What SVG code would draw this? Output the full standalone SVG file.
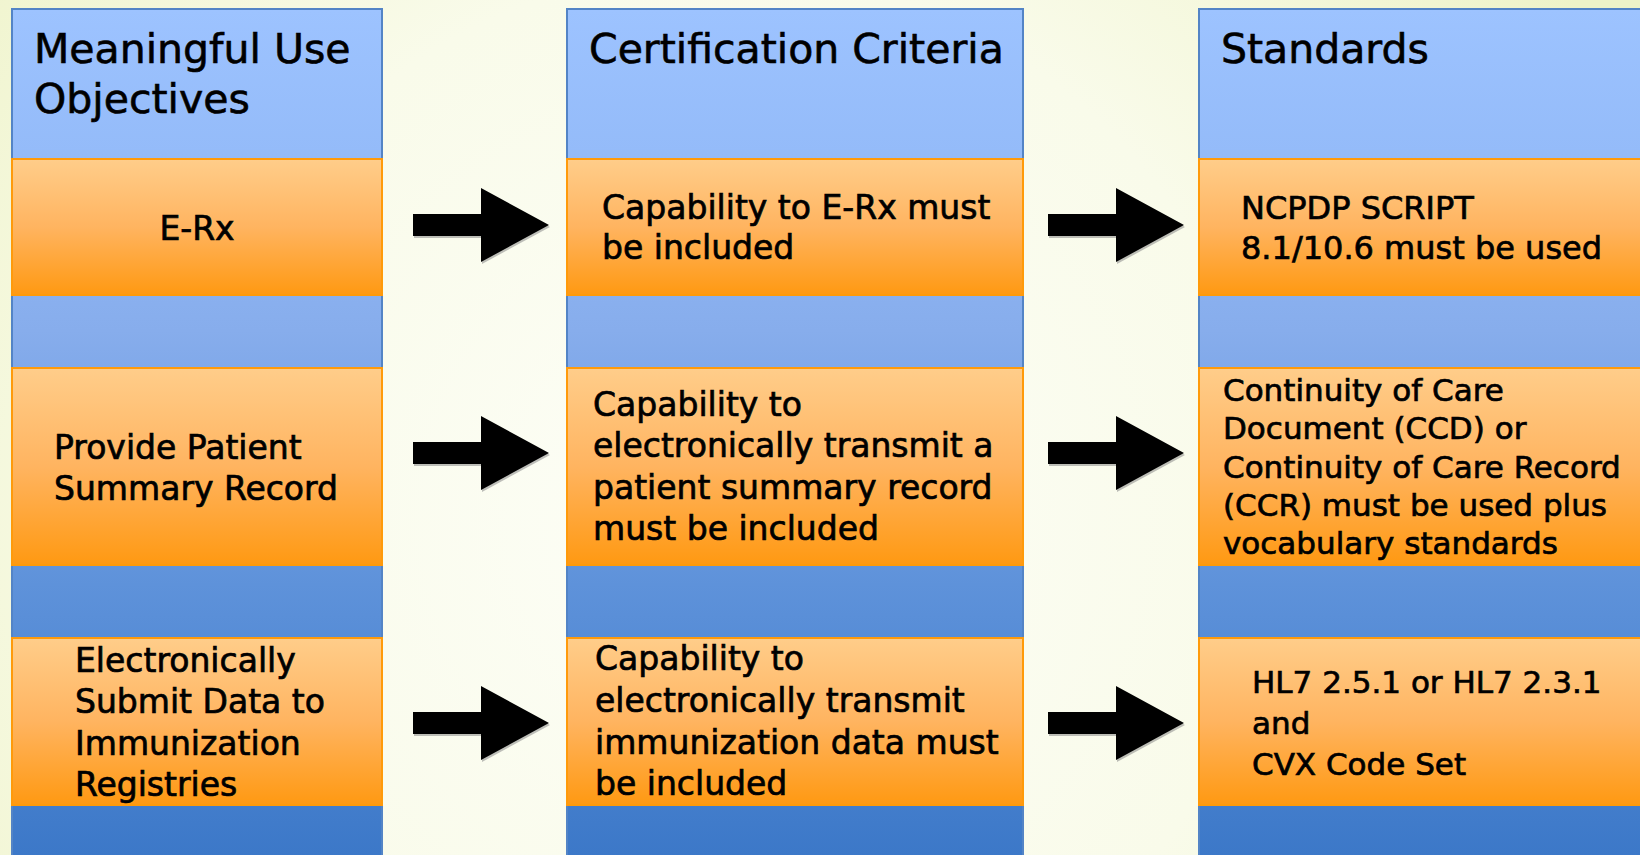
<svg xmlns="http://www.w3.org/2000/svg" width="1640" height="855" viewBox="0 0 1640 855">
  <defs>
    <radialGradient id="bg" cx="720" cy="520" r="1000" gradientUnits="userSpaceOnUse">
      <stop offset="0" stop-color="#FDFEF7"/>
      <stop offset="0.55" stop-color="#F9FBEA"/>
      <stop offset="1" stop-color="#EEF3C8"/>
    </radialGradient>
    <linearGradient id="blue" x1="0" y1="9" x2="0" y2="855" gradientUnits="userSpaceOnUse">
      <stop offset="0" stop-color="#9DC3FF"/>
      <stop offset="0.17" stop-color="#94BBF9"/>
      <stop offset="0.38" stop-color="#87ADEC"/>
      <stop offset="0.68" stop-color="#5E92DA"/>
      <stop offset="1" stop-color="#3C78C8"/>
    </linearGradient>
    <linearGradient id="orange" x1="0" y1="0" x2="0" y2="1">
      <stop offset="0" stop-color="#FFCD8A"/>
      <stop offset="0.5" stop-color="#FFB460"/>
      <stop offset="1" stop-color="#FF9912"/>
    </linearGradient>
    <style>
      .col { fill: url(#blue); stroke: #5384C6; stroke-width: 2; }
      .cell { fill: url(#orange); stroke: #FF9A0A; stroke-width: 2; }
      text { font-family: "DejaVu Sans", "Liberation Sans", sans-serif; fill: #000; stroke: #000; stroke-width: 0.7px; }
      .hdr { font-size: 41px; stroke-width: 0.6px; }
      .t33 { font-size: 33px; }
      .t32 { font-size: 32px; }
      .t31 { font-size: 31px; }
      .arrow { fill: #000; }
      .shadow { fill: #8a8a8a; opacity: 0.55; }
    </style>
  </defs>

  <rect x="0" y="0" width="1640" height="855" fill="url(#bg)"/>

  <!-- Column backgrounds -->
  <g id="columns">
    <rect class="col" x="12" y="9" width="370" height="860"/>
    <rect class="col" x="567" y="9" width="456" height="860"/>
    <rect class="col" x="1199" y="9" width="450" height="860"/>
  </g>

  <!-- Headers -->
  <g id="header-objectives">
    <text class="hdr" x="34" y="63">Meaningful Use</text>
    <text class="hdr" x="34" y="113">Objectives</text>
  </g>
  <g id="header-criteria">
    <text class="hdr" x="589" y="63">Certification Criteria</text>
  </g>
  <g id="header-standards">
    <text class="hdr" x="1221" y="63">Standards</text>
  </g>

  <!-- Row 1 -->
  <g id="obj-erx">
    <rect class="cell" x="12" y="159" width="370" height="136"/>
    <text class="t33" x="197" y="240" text-anchor="middle">E-Rx</text>
  </g>
  <g id="crit-erx">
    <rect class="cell" x="567" y="159" width="456" height="136"/>
    <text class="t33" x="602" y="219">Capability to E-Rx must</text>
    <text class="t33" x="602" y="259">be included</text>
  </g>
  <g id="std-erx">
    <rect class="cell" x="1199" y="159" width="450" height="136"/>
    <text class="t32" x="1241" y="219">NCPDP SCRIPT</text>
    <text class="t32" x="1241" y="259">8.1/10.6 must be used</text>
  </g>

  <!-- Row 2 -->
  <g id="obj-summary">
    <rect class="cell" x="12" y="368" width="370" height="197"/>
    <text class="t33" x="54" y="459">Provide Patient</text>
    <text class="t33" x="54" y="500">Summary Record</text>
  </g>
  <g id="crit-summary">
    <rect class="cell" x="567" y="368" width="456" height="197"/>
    <text class="t33" x="593" y="416">Capability to</text>
    <text class="t33" x="593" y="457">electronically transmit a</text>
    <text class="t33" x="593" y="499">patient summary record</text>
    <text class="t33" x="593" y="540">must be included</text>
  </g>
  <g id="std-summary">
    <rect class="cell" x="1199" y="368" width="450" height="197"/>
    <text class="t31" x="1223" y="401">Continuity of Care</text>
    <text class="t31" x="1223" y="439">Document (CCD) or</text>
    <text class="t31" x="1223" y="478">Continuity of Care Record</text>
    <text class="t31" x="1223" y="516">(CCR) must be used plus</text>
    <text class="t31" x="1223" y="554">vocabulary standards</text>
  </g>

  <!-- Row 3 -->
  <g id="obj-immunization">
    <rect class="cell" x="12" y="638" width="370" height="167"/>
    <text class="t33" x="75" y="672">Electronically</text>
    <text class="t33" x="75" y="713">Submit Data to</text>
    <text class="t33" x="75" y="755">Immunization</text>
    <text class="t33" x="75" y="796">Registries</text>
  </g>
  <g id="crit-immunization">
    <rect class="cell" x="567" y="638" width="456" height="167"/>
    <text class="t33" x="595" y="670">Capability to</text>
    <text class="t33" x="595" y="712">electronically transmit</text>
    <text class="t33" x="595" y="754">immunization data must</text>
    <text class="t33" x="595" y="795">be included</text>
  </g>
  <g id="std-immunization">
    <rect class="cell" x="1199" y="638" width="450" height="167"/>
    <text class="t31" x="1252" y="693">HL7 2.5.1 or HL7 2.3.1</text>
    <text class="t31" x="1252" y="734">and</text>
    <text class="t31" x="1252" y="775">CVX Code Set</text>
  </g>

  <!-- Connectors -->
  <g id="connectors">
    <g transform="translate(1,2)">
      <path class="shadow" d="M413,214 H481 V188 L549,225 L481,262 V236 H413 Z"/>
      <path class="shadow" d="M1048,214 H1116 V188 L1184,225 L1116,262 V236 H1048 Z"/>
      <path class="shadow" d="M413,442 H481 V416 L549,453 L481,490 V464 H413 Z"/>
      <path class="shadow" d="M1048,442 H1116 V416 L1184,453 L1116,490 V464 H1048 Z"/>
      <path class="shadow" d="M413,712 H481 V686 L549,723 L481,760 V734 H413 Z"/>
      <path class="shadow" d="M1048,712 H1116 V686 L1184,723 L1116,760 V734 H1048 Z"/>
    </g>
    <path class="arrow" d="M413,214 H481 V188 L549,225 L481,262 V236 H413 Z"/>
    <path class="arrow" d="M1048,214 H1116 V188 L1184,225 L1116,262 V236 H1048 Z"/>
    <path class="arrow" d="M413,442 H481 V416 L549,453 L481,490 V464 H413 Z"/>
    <path class="arrow" d="M1048,442 H1116 V416 L1184,453 L1116,490 V464 H1048 Z"/>
    <path class="arrow" d="M413,712 H481 V686 L549,723 L481,760 V734 H413 Z"/>
    <path class="arrow" d="M1048,712 H1116 V686 L1184,723 L1116,760 V734 H1048 Z"/>
  </g>
</svg>
